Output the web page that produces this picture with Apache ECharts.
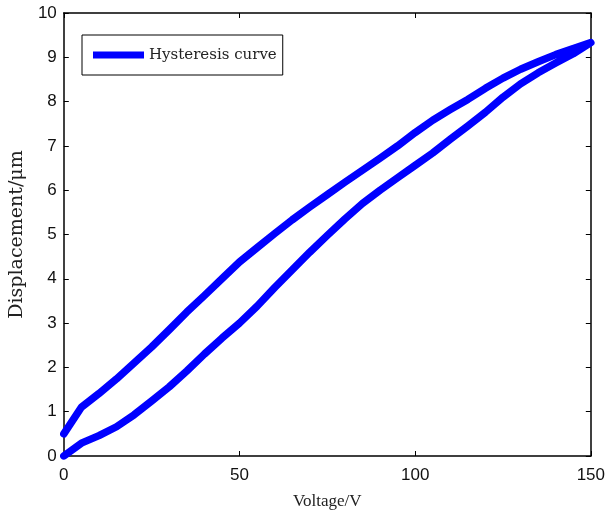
<!DOCTYPE html>
<html>
<head>
<meta charset="utf-8">
<script src="https://cdn.jsdelivr.net/npm/echarts@6/dist/echarts.min.js"></script>
<style>
  html, body { margin: 0; padding: 0; background: #fff; }
  #chart { width: 608px; height: 515px; }
</style>
</head>
<body>
<div id="chart"></div>
<script>
// ascending branch (loading), voltage in V, displacement in um
var upVoltage = [0, 5, 10, 15, 20, 25, 30, 35, 40, 45, 50, 55, 60, 65, 70, 75, 80, 85, 90, 95, 100, 105, 110, 115, 120, 125, 130, 135, 140, 145, 150];
var upDisp = [0, 0.29, 0.46, 0.66, 0.93, 1.24, 1.56, 1.92, 2.3, 2.66, 3.0, 3.38, 3.8, 4.2, 4.6, 4.98, 5.35, 5.7, 6.0, 6.28, 6.56, 6.84, 7.15, 7.45, 7.76, 8.1, 8.4, 8.65, 8.87, 9.08, 9.33];
// descending branch (unloading)
var downVoltage = [150, 145, 140, 135, 130, 125, 120, 115, 110, 105, 100, 95, 90, 85, 80, 75, 70, 65, 60, 55, 50, 45, 40, 35, 30, 25, 20, 15, 10, 5, 0];
var downDisp = [9.33, 9.2, 9.06, 8.9, 8.73, 8.53, 8.3, 8.05, 7.82, 7.58, 7.3, 7.0, 6.72, 6.45, 6.18, 5.9, 5.62, 5.33, 5.02, 4.7, 4.38, 4.0, 3.62, 3.25, 2.85, 2.46, 2.1, 1.74, 1.41, 1.1, 0.5];
var xTicks = [0, 50, 100, 150];
var yTicks = [0, 1, 2, 3, 4, 5, 6, 7, 8, 9, 10];

var loop = [];
for (var i = 0; i < upVoltage.length; i++) loop.push([upVoltage[i], upDisp[i]]);
for (var j = 0; j < downVoltage.length; j++) loop.push([downVoltage[j], downDisp[j]]);

var tickFont = '"Liberation Sans", Arial, sans-serif';
var serifFont = '"Liberation Serif", serif';
var wideSerif = '"DejaVu Serif", serif';

var myChart = echarts.init(document.getElementById('chart'), null, { renderer: 'canvas' });

function frame() {
  return {
    axisLine: { show: true, onZero: false, lineStyle: { color: '#000', width: 1.5 } },
    axisTick: { show: true, inside: true, length: 5, lineStyle: { color: '#000' } },
    splitLine: { show: false }
  };
}

var option = {
  animation: false,
  backgroundColor: '#fff',
  grid: { left: 61, right: 15, top: 13, bottom: 58 },
  legend: {
    data: ['Hysteresis curve'],
    left: 82,
    top: 35,
    orient: 'vertical',
    padding: [11, 6, 11, 11],
    borderColor: '#000',
    borderWidth: 1,
    icon: 'rect',
    itemWidth: 51,
    itemHeight: 7,
    itemGap: 0,
    textStyle: { fontFamily: wideSerif, fontSize: 15, color: '#222', lineHeight: 18 }
  },
  xAxis: [
    Object.assign(frame(), {
      type: 'value', min: xTicks[0], max: xTicks[xTicks.length - 1], interval: 50,
      name: 'Voltage/V', nameLocation: 'middle', nameGap: 37,
      nameTextStyle: { fontFamily: serifFont, fontSize: 17, color: '#222' },
      axisLabel: { fontFamily: tickFont, fontSize: 17, color: '#111', margin: 11 }
    }),
    Object.assign(frame(), {
      type: 'value', position: 'top', min: 0, max: 150, interval: 50,
      axisLabel: { show: false }
    })
  ],
  yAxis: [
    Object.assign(frame(), {
      type: 'value', min: yTicks[0], max: yTicks[yTicks.length - 1], interval: 1,
      name: 'Displacement/\u03bcm', nameLocation: 'middle', nameGap: 29,
      nameTextStyle: { fontFamily: wideSerif, fontSize: 19, color: '#222' },
      axisLabel: { fontFamily: tickFont, fontSize: 17, color: '#111', margin: 7 }
    }),
    Object.assign(frame(), {
      type: 'value', position: 'right', min: 0, max: 10, interval: 1,
      axisLabel: { show: false }
    })
  ],
  series: [
    {
      name: 'Hysteresis curve',
      type: 'line',
      data: loop,
      showSymbol: false,
      smooth: false,
      lineStyle: { color: '#0000ff', width: 7.5, join: 'round', cap: 'round' },
      itemStyle: { color: '#0000ff' }
    }
  ]
};

myChart.setOption(option);
window.addEventListener('resize', myChart.resize);
</script>
</body>
</html>
